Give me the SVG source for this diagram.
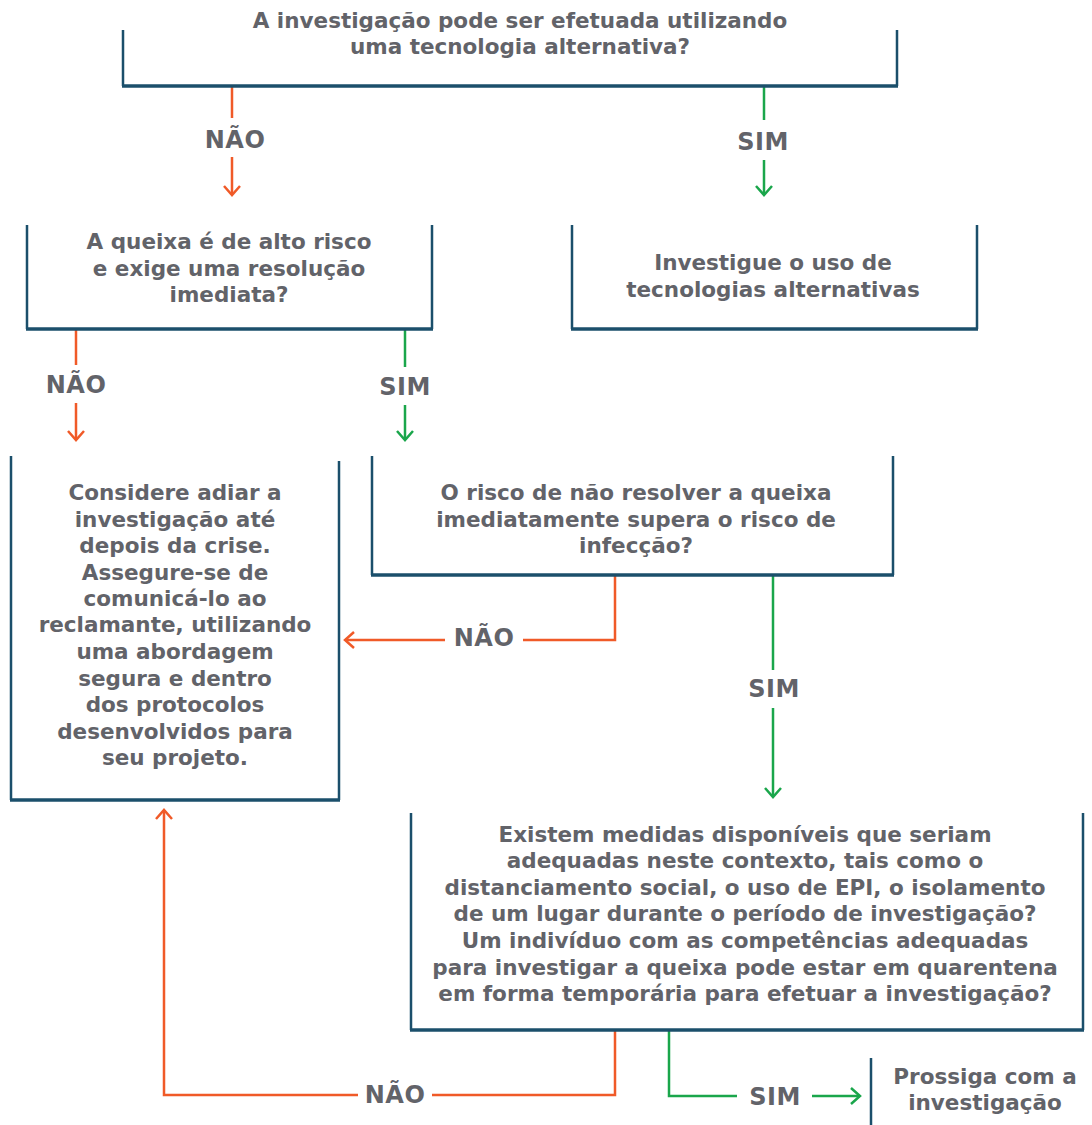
<svg xmlns="http://www.w3.org/2000/svg" width="1092" height="1125" viewBox="0 0 1092 1125">
<defs>
<style>
.box{fill:none;stroke:#1b4f6b;stroke-width:2.5}
.bot{fill:none;stroke:#1b4f6b;stroke-width:3.5}
.t{font-family:"DejaVu Sans","Open Sans",sans-serif;font-weight:700;font-size:21.5px;fill:#626369;text-anchor:middle}
.lbl{font-family:"DejaVu Sans","Open Sans",sans-serif;font-weight:700;font-size:24px;letter-spacing:0.5px;fill:#626369;text-anchor:middle}
.o{fill:none;stroke:#f05a28;stroke-width:2.5}
.g{fill:none;stroke:#1aa64b;stroke-width:2.5}
</style>
<marker id="ao" viewBox="0 0 20 20" refX="18" refY="10" markerWidth="20" markerHeight="20" markerUnits="userSpaceOnUse" orient="auto"><path d="M9,2 L18,10 L9,18" fill="none" stroke="#f05a28" stroke-width="2.5"/></marker>
<marker id="ag" viewBox="0 0 20 20" refX="18" refY="10" markerWidth="20" markerHeight="20" markerUnits="userSpaceOnUse" orient="auto"><path d="M9,2 L18,10 L9,18" fill="none" stroke="#1aa64b" stroke-width="2.5"/></marker>
</defs>
<rect width="1092" height="1125" fill="#fff"/>
<g id="connectors">
<path class="o" d="M232,87 V118"/><path class="o" d="M232,157 V195" marker-end="url(#ao)"/>
<text class="lbl" x="235" y="148">NÃO</text>
<path class="g" d="M764,87 V120"/><path class="g" d="M764,160 V195" marker-end="url(#ag)"/>
<text class="lbl" x="763" y="150">SIM</text>
<path class="o" d="M76,330 V365"/><path class="o" d="M76,403 V440" marker-end="url(#ao)"/>
<text class="lbl" x="76" y="393">NÃO</text>
<path class="g" d="M405,330 V367"/><path class="g" d="M405,405 V440" marker-end="url(#ag)"/>
<text class="lbl" x="405" y="395">SIM</text>
<path class="o" d="M615,575 V640 H523"/><path class="o" d="M445,640 H345" marker-end="url(#ao)"/>
<text class="lbl" x="484" y="646">NÃO</text>
<path class="g" d="M773,575 V670"/><path class="g" d="M773,708 V797" marker-end="url(#ag)"/>
<text class="lbl" x="774" y="697">SIM</text>
<path class="o" d="M615,1030 V1095 H432"/><path class="o" d="M358,1095 H164 V810" marker-end="url(#ao)"/>
<text class="lbl" x="395" y="1103">NÃO</text>
<path class="g" d="M669,1030 V1096 H737"/><path class="g" d="M812,1096 H860" marker-end="url(#ag)"/>
<text class="lbl" x="775" y="1105">SIM</text>
</g>
<g id="n1">
<path class="box" d="M123,30 V86 M897,30 V86"/><path class="bot" d="M122,86 H898"/>
<text class="t" x="520" y="28">A investigação pode ser efetuada utilizando</text>
<text class="t" x="520" y="54">uma tecnologia alternativa?</text>
</g>
<g id="n2">
<path class="box" d="M27,225 V329 M432,225 V329"/><path class="bot" d="M26,329 H433"/>
<text class="t" x="229" y="249">A queixa é de alto risco</text>
<text class="t" x="229" y="276">e exige uma resolução</text>
<text class="t" x="229" y="302">imediata?</text>
</g>
<g id="n3">
<path class="box" d="M572,225 V329 M977,225 V329"/><path class="bot" d="M571,329 H978"/>
<text class="t" x="773" y="270">Investigue o uso de</text>
<text class="t" x="773" y="297">tecnologias alternativas</text>
</g>
<g id="n4">
<path class="box" d="M11,456 V800 M339,461 V800"/><path class="bot" d="M10,800 H340"/>
<text class="t" x="175" y="500">Considere adiar a</text>
<text class="t" x="175" y="527">investigação até</text>
<text class="t" x="175" y="553">depois da crise.</text>
<text class="t" x="175" y="580">Assegure-se de</text>
<text class="t" x="175" y="606">comunicá-lo ao</text>
<text class="t" x="175" y="632">reclamante, utilizando</text>
<text class="t" x="175" y="659">uma abordagem</text>
<text class="t" x="175" y="686">segura e dentro</text>
<text class="t" x="175" y="712">dos protocolos</text>
<text class="t" x="175" y="739">desenvolvidos para</text>
<text class="t" x="175" y="765">seu projeto.</text>
</g>
<g id="n5">
<path class="box" d="M372,456 V575 M893,456 V575"/><path class="bot" d="M371,575 H894"/>
<text class="t" x="636" y="500">O risco de não resolver a queixa</text>
<text class="t" x="636" y="527">imediatamente supera o risco de</text>
<text class="t" x="636" y="553">infecção?</text>
</g>
<g id="n6">
<path class="box" d="M411,813 V1030 M1083,813 V1030"/><path class="bot" d="M410,1030 H1084"/>
<text class="t" x="745" y="842">Existem medidas disponíveis que seriam</text>
<text class="t" x="745" y="868">adequadas neste contexto, tais como o</text>
<text class="t" x="745" y="895">distanciamento social, o uso de EPI, o isolamento</text>
<text class="t" x="745" y="921">de um lugar durante o período de investigação?</text>
<text class="t" x="745" y="948">Um indivíduo com as competências adequadas</text>
<text class="t" x="745" y="975">para investigar a queixa pode estar em quarentena</text>
<text class="t" x="745" y="1001">em forma temporária para efetuar a investigação?</text>
</g>
<g id="n7">
<path class="box" d="M871,1058 V1125"/>
<text class="t" x="985" y="1084">Prossiga com a</text>
<text class="t" x="985" y="1110">investigação</text>
</g>
</svg>
